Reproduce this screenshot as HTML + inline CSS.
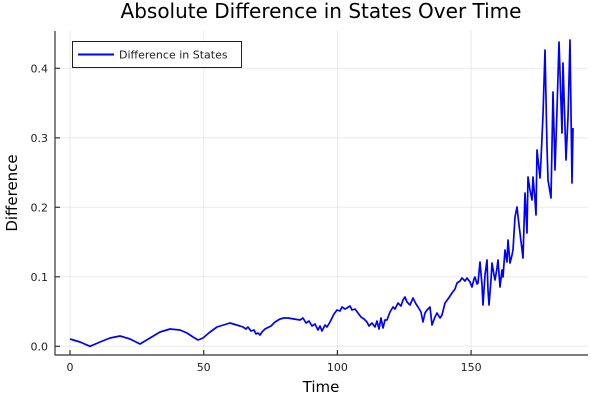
<!DOCTYPE html>
<html><head><meta charset="utf-8"><style>
html,body{margin:0;padding:0;background:#fff;}
svg{display:block;font-family:"DejaVu Sans","Liberation Sans",sans-serif;}
</style></head><body>
<svg width="600" height="400" viewBox="0 0 600 400" xmlns="http://www.w3.org/2000/svg">
<rect width="600" height="400" fill="#fff"/>
<g stroke="#000" stroke-opacity="0.08" stroke-width="1">
<line x1="70" y1="31" x2="70" y2="355"/>
<line x1="203.7" y1="31" x2="203.7" y2="355"/>
<line x1="337.4" y1="31" x2="337.4" y2="355"/>
<line x1="471.1" y1="31" x2="471.1" y2="355"/>
<line x1="55" y1="346.3" x2="588" y2="346.3"/>
<line x1="55" y1="276.8" x2="588" y2="276.8"/>
<line x1="55" y1="207.3" x2="588" y2="207.3"/>
<line x1="55" y1="137.8" x2="588" y2="137.8"/>
<line x1="55" y1="68.3" x2="588" y2="68.3"/>
</g>
<g stroke="#333" stroke-width="1.2">
<line x1="55" y1="31" x2="55" y2="355.5"/>
<line x1="55" y1="355" x2="588" y2="355"/>
<line x1="70" y1="355" x2="70" y2="350"/>
<line x1="203.7" y1="355" x2="203.7" y2="350"/>
<line x1="337.4" y1="355" x2="337.4" y2="350"/>
<line x1="471.1" y1="355" x2="471.1" y2="350"/>
<line x1="55" y1="346.3" x2="60" y2="346.3"/>
<line x1="55" y1="276.8" x2="60" y2="276.8"/>
<line x1="55" y1="207.3" x2="60" y2="207.3"/>
<line x1="55" y1="137.8" x2="60" y2="137.8"/>
<line x1="55" y1="68.3" x2="60" y2="68.3"/>
</g>
<g font-size="11" fill="#222" text-anchor="middle">
<text x="70" y="371">0</text><text x="203.7" y="371">50</text><text x="337.4" y="371">100</text><text x="471.1" y="371">150</text>
</g>
<g font-size="11" fill="#222" text-anchor="end">
<text x="48" y="350.3">0.0</text><text x="48" y="280.8">0.1</text><text x="48" y="211.3">0.2</text><text x="48" y="141.8">0.3</text><text x="48" y="72.3">0.4</text>
</g>
<text x="321" y="18" font-size="20" text-anchor="middle" fill="#000">Absolute Difference in States Over Time</text>
<text x="321" y="392" font-size="15" text-anchor="middle" fill="#000">Time</text>
<text transform="translate(17,193) rotate(-90)" font-size="15" text-anchor="middle" fill="#000">Difference</text>
<polyline fill="none" stroke="#0000ff" stroke-width="1.7" stroke-linejoin="round" points="
70,339 80,342 90,346.3 100,342 110,338 120,336 130,339 140,344 150,338 160,332 170,329 180,330 187,333 193,337 198,340 203,338 210,332 217,327 230,323 240,326 243,327 246,329 248,327 251,331 254,330 256,334 258,333 260,335 262,332 265,329 267,328 271,326 275,322 280,319 284,318 288,318 294,319 300,320 303,318 306,323 309,321 312,326 315,324 318,330 320,326 322,331 325,325 327,327 330,322 332,318 334,314 337,310 340,311 342,307 345,309 347,308 350,306 352,310 355,309 358,313 361,317 364,319 367,322 369,326 372,323 375,327 377,321 379,329 381,318 383,328 385,320 387,320 390,312 393,307 395,309 398,303 401,306 403,300 405,297 407,302 410,305 413,298 416,304 418,307 421,312 423,322 425,313 427,310 430,307 432,325 435,317 437,313 440,318 442,315 445,303 448,299 452,293 455,289 457,283 460,281 462,278 465,281 467,278 470,282 472,287 474,279 475,277 477,284 478,283 480,262 482,285 483,305 485,275 487,260 488,290 489,305 491,280 492,263 494,275 495,280 497,268 498,260 500,287 502,270 503,277 505,250 507,262 508,240 510,263 512,255 513,250 515,217 517,207 519,225 520,233 523,258 525,193 527,233 528,177 530,190 532,200 533,177 535,200 536,215 537,150 540,178 541,160 543,115 545,50 547,147 548,180 550,192 551,198 553,92 555,170 557,110 559,42 562,133 563,63 566,160 568,117 570,40 572,183 573,128"/>
<rect x="72.5" y="41.5" width="169" height="26" fill="#fff" stroke="#222" stroke-width="1"/>
<line x1="78" y1="54.5" x2="114" y2="54.5" stroke="#0000ff" stroke-width="2"/>
<text x="119" y="58.5" font-size="11" fill="#222">Difference in States</text>
</svg>
</body></html>
